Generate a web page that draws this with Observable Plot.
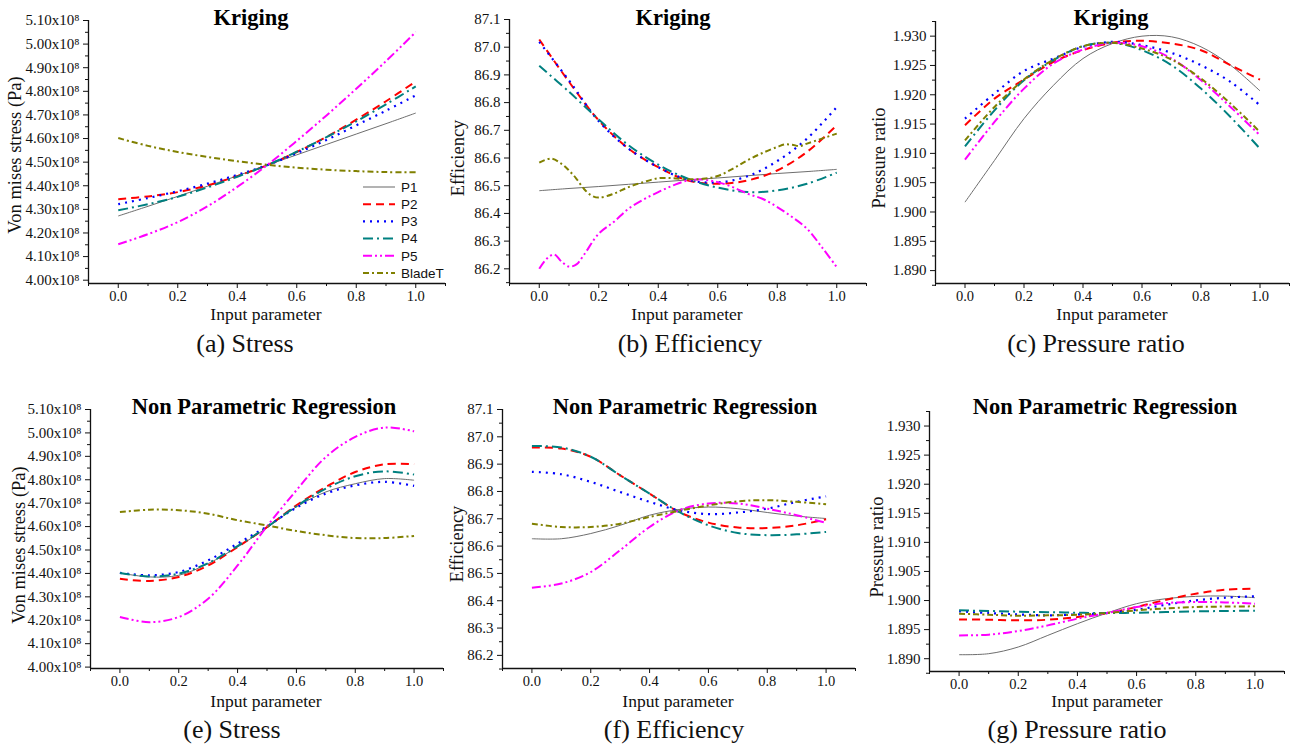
<!DOCTYPE html>
<html>
<head>
<meta charset="utf-8">
<script src="https://cdn.jsdelivr.net/npm/d3@7"></script>
<script src="https://cdn.jsdelivr.net/npm/@observablehq/plot@0.6"></script>
<style>
  body { margin: 0; background: #fff; }
  #fig { position: relative; width: 1294px; height: 747px; overflow: hidden; background: #fff; }
  #fig > svg { position: absolute; }
</style>
</head>
<body>
<div id="fig"></div>
<script>
// ---------- shared values ----------
const xs = [0, 0.1, 0.2, 0.3, 0.4, 0.5, 0.6, 0.7, 0.8, 0.9, 1.0];
const xMajor = [0, 0.2, 0.4, 0.6, 0.8, 1.0];
const xMinor = [-0.1, 0.1, 0.3, 0.5, 0.7, 0.9, 1.1];

const seriesNames = ["P1", "P2", "P3", "P4", "P5", "BladeT"];

const methodTitles = ["Kriging", "Non Parametric Regression"];
const inputLabel = "Input parameter";
const yLabels = ["Von mises stress (Pa)", "Efficiency", "Pressure ratio"];
const captions = ["(a) Stress", "(b) Efficiency", "(c) Pressure ratio",
                  "(e) Stress", "(f) Efficiency", "(g) Pressure ratio"];

// y tick values (stress in units of 10^8 Pa)
const stressTicks = [4.0, 4.1, 4.2, 4.3, 4.4, 4.5, 4.6, 4.7, 4.8, 4.9, 5.0, 5.1];
const stressMinor = [4.05, 4.15, 4.25, 4.35, 4.45, 4.55, 4.65, 4.75, 4.85, 4.95, 5.05];
const effTicks = [86.2, 86.3, 86.4, 86.5, 86.6, 86.7, 86.8, 86.9, 87.0, 87.1];
const effMinor = [86.15, 86.25, 86.35, 86.45, 86.55, 86.65, 86.75, 86.85, 86.95, 87.05];
const prTicks = [1.890, 1.895, 1.900, 1.905, 1.910, 1.915, 1.920, 1.925, 1.930];
const prMinor = [1.8875, 1.8925, 1.8975, 1.9025, 1.9075, 1.9125, 1.9175, 1.9225, 1.9275, 1.9325];

// ---------- (a) Stress, Kriging ----------
const sKP1 = [4.272, 4.313, 4.355, 4.398, 4.442, 4.487, 4.531, 4.575, 4.619, 4.663, 4.708];
const sKP2 = [4.343, 4.355, 4.373, 4.402, 4.441, 4.487, 4.543, 4.607, 4.680, 4.758, 4.842];
const sKP3 = [4.322, 4.348, 4.377, 4.409, 4.446, 4.487, 4.538, 4.594, 4.656, 4.718, 4.783];
const sKP4 = [4.296, 4.322, 4.353, 4.393, 4.438, 4.487, 4.544, 4.606, 4.673, 4.745, 4.821];
const sKP5 = [4.152, 4.195, 4.246, 4.313, 4.395, 4.487, 4.590, 4.698, 4.811, 4.928, 5.051];
const sKBT = [4.602, 4.569, 4.543, 4.522, 4.504, 4.489, 4.477, 4.468, 4.462, 4.458, 4.457];

// ---------- (b) Efficiency, Kriging ----------
const eKP1 = [86.482, 86.490, 86.497, 86.505, 86.513, 86.521, 86.528, 86.536, 86.544, 86.551, 86.559];
const eKP2 = [87.028, 86.875, 86.736, 86.634, 86.567, 86.519, 86.507, 86.519, 86.555, 86.622, 86.718];
const eKP3 = [87.019, 86.880, 86.733, 86.634, 86.567, 86.521, 86.512, 86.534, 86.589, 86.670, 86.784];
const eKP4 = [86.933, 86.839, 86.739, 86.646, 86.576, 86.525, 86.493, 86.477, 86.483, 86.507, 86.547];
const xsEKP5 = [0, 0.025, 0.05, 0.075, 0.1, 0.125, 0.15, 0.2, 0.25, 0.3, 0.35, 0.4, 0.45, 0.5,
                0.55, 0.6, 0.65, 0.7, 0.75, 0.8, 0.85, 0.9, 0.95, 1.0];
const eKP5 = [86.200, 86.236, 86.252, 86.226, 86.208, 86.216, 86.250, 86.327, 86.369, 86.417, 86.450, 86.477,
              86.501, 86.519, 86.522, 86.513, 86.495, 86.471, 86.453, 86.423, 86.387, 86.345, 86.278, 86.206];
const xsEKBT = [0, 0.04, 0.075, 0.1, 0.125, 0.15, 0.175, 0.2, 0.25, 0.3, 0.35, 0.4, 0.45, 0.5,
                0.55, 0.6, 0.65, 0.7, 0.75, 0.8, 0.825, 0.85, 0.875, 0.9, 0.95, 1.0];
const eKBT = [86.583, 86.598, 86.579, 86.555, 86.525, 86.489, 86.465, 86.457, 86.471, 86.495, 86.513, 86.527,
              86.527, 86.523, 86.525, 86.535, 86.561, 86.592, 86.618, 86.640, 86.649, 86.648, 86.643, 86.652,
              86.670, 86.688];

// ---------- (c) Pressure ratio, Kriging ----------
const pKP1 = [1.90168, 1.90880, 1.91593, 1.92162, 1.92618, 1.92875, 1.93000, 1.92989, 1.92818, 1.92504, 1.92066];
const pKP2 = [1.91479, 1.91934, 1.92259, 1.92561, 1.92761, 1.92886, 1.92920, 1.92875, 1.92760, 1.92504, 1.92259];
const pKP3 = [1.91593, 1.92020, 1.92407, 1.92618, 1.92818, 1.92903, 1.92846, 1.92715, 1.92504, 1.92220, 1.91820];
const pKP4 = [1.91120, 1.91735, 1.92248, 1.92590, 1.92829, 1.92886, 1.92761, 1.92504, 1.92105, 1.91621, 1.91080];
const pKP5 = [1.90892, 1.91536, 1.92105, 1.92533, 1.92772, 1.92886, 1.92829, 1.92618, 1.92248, 1.91792, 1.91308];
const pKBT = [1.91222, 1.91792, 1.92259, 1.92601, 1.92829, 1.92886, 1.92789, 1.92601, 1.92276, 1.91849, 1.91365];

// ---------- (e) Stress, non parametric regression ----------
const sNP1 = [4.402, 4.385, 4.392, 4.442, 4.513, 4.595, 4.684, 4.748, 4.783, 4.805, 4.798];
const sNP2 = [4.377, 4.368, 4.385, 4.434, 4.513, 4.598, 4.691, 4.769, 4.833, 4.866, 4.866];
const sNP3 = [4.402, 4.392, 4.406, 4.456, 4.527, 4.601, 4.681, 4.741, 4.776, 4.791, 4.774];
const sNP4 = [4.402, 4.387, 4.399, 4.444, 4.517, 4.598, 4.687, 4.762, 4.815, 4.836, 4.822];
const sNP5 = [4.214, 4.192, 4.214, 4.292, 4.434, 4.601, 4.755, 4.897, 4.983, 5.023, 5.007];
const sNBT = [4.662, 4.672, 4.670, 4.655, 4.627, 4.605, 4.581, 4.563, 4.551, 4.551, 4.560];

// ---------- (f) Efficiency, non parametric regression ----------
const eNP1 = [86.627, 86.627, 86.646, 86.676, 86.713, 86.734, 86.743, 86.737, 86.723, 86.710, 86.701];
const eNP2 = [86.961, 86.957, 86.927, 86.859, 86.792, 86.725, 86.686, 86.668, 86.666, 86.676, 86.698];
const eNP3 = [86.872, 86.863, 86.835, 86.798, 86.762, 86.731, 86.717, 86.723, 86.737, 86.762, 86.782];
const eNP4 = [86.966, 86.961, 86.927, 86.859, 86.792, 86.725, 86.676, 86.648, 86.640, 86.643, 86.652];
const eNP5 = [86.448, 86.463, 86.505, 86.585, 86.670, 86.731, 86.756, 86.756, 86.737, 86.713, 86.685];
const eNBT = [86.682, 86.670, 86.670, 86.682, 86.707, 86.729, 86.749, 86.764, 86.768, 86.762, 86.753];

// ---------- (g) Pressure ratio, non parametric regression ----------
const pNP1 = [1.89069, 1.89086, 1.89201, 1.89401, 1.89602, 1.89785, 1.89946, 1.90032, 1.90072, 1.90077, 1.90049];
const pNP2 = [1.89676, 1.89670, 1.89659, 1.89670, 1.89716, 1.89785, 1.89888, 1.90014, 1.90117, 1.90186, 1.90203];
const pNP3 = [1.89814, 1.89785, 1.89762, 1.89745, 1.89762, 1.89785, 1.89842, 1.89928, 1.90003, 1.90049, 1.90072];
const pNP4 = [1.89831, 1.89820, 1.89808, 1.89800, 1.89791, 1.89785, 1.89791, 1.89802, 1.89814, 1.89820, 1.89825];
const pNP5 = [1.89401, 1.89413, 1.89476, 1.89573, 1.89688, 1.89785, 1.89888, 1.89957, 1.89974, 1.89968, 1.89946];
const pNBT = [1.89774, 1.89756, 1.89739, 1.89745, 1.89756, 1.89785, 1.89831, 1.89865, 1.89888, 1.89897, 1.89900];

// ---------- line styles, one per series ----------
const lineStyles = [
  {stroke: "#6e6e6e", strokeWidth: 1,   dash: null},
  {stroke: "#ff0000", strokeWidth: 2,   dash: "8,5"},
  {stroke: "#0000ff", strokeWidth: 2.2, dash: "2,5"},
  {stroke: "#008080", strokeWidth: 2,   dash: "10,4,2,4"},
  {stroke: "#ff00ff", strokeWidth: 2,   dash: "9,3,2,3,2,3"},
  {stroke: "#808000", strokeWidth: 2,   dash: "6,3,2,3"}
];

const fmtStress = d => d3.format(".2f")(d) + "x10\u2078";
const fmtEff = d3.format(".1f");
const fmtPr = d3.format(".3f");

// ---------- panel setup ----------
const panels = [
  {left: 0, top: 0, width: 450, height: 330, mL: 88, mT: 20, mB: 47,
   yDomain: [3.986, 5.10], ticks: stressTicks, minor: stressMinor, fmt: fmtStress,
   xsList: [xs, xs, xs, xs, xs, xs], ysList: [sKP1, sKP2, sKP3, sKP4, sKP5, sKBT]},
  {left: 430, top: 0, width: 441, height: 330, mL: 79, mT: 19, mB: 47,
   yDomain: [86.147, 87.1], ticks: effTicks, minor: effMinor, fmt: fmtEff,
   xsList: [xs, xs, xs, xs, xsEKP5, xsEKBT], ysList: [eKP1, eKP2, eKP3, eKP4, eKP5, eKBT]},
  {left: 860, top: 0, width: 434, height: 330, mL: 75, mT: 21, mB: 47,
   yDomain: [1.8878, 1.9325], ticks: prTicks, minor: prMinor, fmt: fmtPr,
   xsList: [xs, xs, xs, xs, xs, xs], ysList: [pKP1, pKP2, pKP3, pKP4, pKP5, pKBT]},
  {left: 0, top: 390, width: 448, height: 357, mL: 90, mT: 19, mB: 79,
   yDomain: [3.994, 5.10], ticks: stressTicks, minor: stressMinor, fmt: fmtStress,
   xsList: [xs, xs, xs, xs, xs, xs], ysList: [sNP1, sNP2, sNP3, sNP4, sNP5, sNBT]},
  {left: 430, top: 390, width: 430, height: 357, mL: 72, mT: 19, mB: 79,
   yDomain: [86.152, 87.1], ticks: effTicks, minor: effMinor, fmt: fmtEff,
   xsList: [xs, xs, xs, xs, xs, xs], ysList: [eNP1, eNP2, eNP3, eNP4, eNP5, eNBT]},
  {left: 860, top: 390, width: 429, height: 357, mL: 69, mT: 21, mB: 76,
   yDomain: [1.8878, 1.9325], ticks: prTicks, minor: prMinor, fmt: fmtPr,
   xsList: [xs, xs, xs, xs, xs, xs], ysList: [pNP1, pNP2, pNP3, pNP4, pNP5, pNBT]}
];

const fig = document.getElementById("fig");

panels.forEach(p => {
  const lines = p.ysList.map((ys, i) => {
    const s = lineStyles[i];
    return Plot.line(ys, {
      x: p.xsList[i], y: ys, curve: "catmull-rom",
      stroke: s.stroke, strokeWidth: s.strokeWidth,
      strokeDasharray: s.dash, strokeLinecap: "butt"
    });
  });
  const chart = Plot.plot({
    width: p.width, height: p.height,
    marginLeft: p.mL, marginRight: 5, marginTop: p.mT, marginBottom: p.mB,
    x: {domain: [-0.1, 1.1], axis: null},
    y: {domain: p.yDomain, axis: null},
    style: {background: "transparent", fontFamily: "'Liberation Serif', 'Times New Roman', serif",
            fontSize: "15px", color: "#111", overflow: "visible"},
    marks: [
      Plot.axisX({ticks: xMajor, tickSize: 5, tickPadding: 2, tickFormat: fmtEff, label: null, fontSize: 14.5}),
      Plot.axisX({ticks: xMinor, tickSize: 3, tickFormat: () => "", label: null}),
      Plot.axisY({ticks: p.ticks, tickSize: 5, tickPadding: 4, tickFormat: p.fmt, label: null, fontSize: 15}),
      Plot.axisY({ticks: p.minor, tickSize: 3, tickFormat: () => "", label: null}),
      Plot.ruleX([-0.1], {stroke: "#111", strokeWidth: 1.3}),
      Plot.ruleY([p.yDomain[0]], {stroke: "#111", strokeWidth: 1.3}),
      ...lines
    ]
  });
  chart.style.left = p.left + "px";
  chart.style.top = p.top + "px";
  fig.appendChild(chart);
});

// ---------- titles, axis names, captions and legend ----------
const serif = "'Liberation Serif', 'Times New Roman', serif";
const overlay = d3.select(fig).append("svg")
  .attr("width", 1294).attr("height", 747)
  .style("left", "0px").style("top", "0px").style("pointer-events", "none");

const titlePos = [[251, 25], [673, 25], [1111, 25], [264, 414], [685, 414], [1105, 414]];
const xLabelPos = [[266, 320], [687, 320], [1112, 320], [266, 707], [678, 707], [1107, 707]];
const yLabelPos = [[21, 155], [464, 158], [885, 158], [25, 545], [463, 544], [883, 547]];
const captionPos = [[245, 352], [690, 352], [1096, 352], [232, 738], [674, 738], [1077, 738]];

titlePos.forEach(([x, y], i) => {
  overlay.append("text").attr("x", x).attr("y", y).attr("text-anchor", "middle")
    .attr("font-family", serif).attr("font-weight", "bold").attr("font-size", 22.5)
    .attr("fill", "#000").text(methodTitles[i < 3 ? 0 : 1]);
});
xLabelPos.forEach(([x, y]) => {
  overlay.append("text").attr("x", x).attr("y", y).attr("text-anchor", "middle")
    .attr("font-family", serif).attr("font-size", 17.5).attr("fill", "#111").text(inputLabel);
});
yLabelPos.forEach(([x, y], i) => {
  overlay.append("text").attr("transform", `translate(${x},${y}) rotate(-90)`)
    .attr("text-anchor", "middle").attr("font-family", serif).attr("font-size", 18.5)
    .attr("fill", "#111").text(yLabels[i % 3]);
});
captionPos.forEach(([x, y], i) => {
  overlay.append("text").attr("x", x).attr("y", y).attr("text-anchor", "middle")
    .attr("font-family", serif).attr("font-size", 26).attr("fill", "#111").text(captions[i]);
});

// legend inside the first panel
const legend = overlay.append("g").attr("transform", "translate(363,187)");
seriesNames.forEach((name, i) => {
  const s = lineStyles[i];
  const row = legend.append("g").attr("transform", `translate(0,${i * 17.2})`);
  row.append("line").attr("x1", 0).attr("x2", 32).attr("y1", 0).attr("y2", 0)
    .attr("stroke", i === 0 ? "#a0a0a0" : s.stroke)
    .attr("stroke-width", i === 0 ? 1.6 : s.strokeWidth)
    .attr("stroke-dasharray", s.dash);
  row.append("text").attr("x", 38).attr("y", 0).attr("dy", "0.36em")
    .attr("font-family", "'Liberation Sans', Arial, sans-serif").attr("font-size", 13.5)
    .attr("fill", "#111").text(name);
});
</script>
</body>
</html>
